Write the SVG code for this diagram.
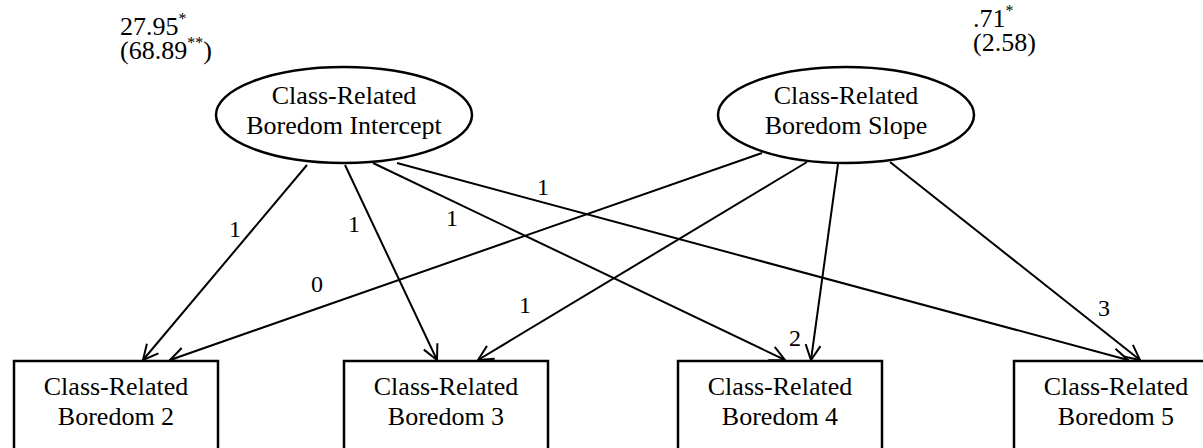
<svg xmlns="http://www.w3.org/2000/svg" width="1203" height="448" viewBox="0 0 1203 448">
<defs>
<style>
.t{font-family:"Liberation Serif","Times New Roman",serif;font-size:26px;fill:#000}
.c{text-anchor:middle}
.lb{font-family:"Liberation Serif","Times New Roman",serif;font-size:24px;fill:#000;text-anchor:middle}
.sup{font-size:16px}
.shape{fill:#fff;stroke:#000;stroke-width:2.5}
.edge{fill:none;stroke:#000;stroke-width:2;marker-end:url(#arr)}
</style>
<marker id="arr" markerUnits="userSpaceOnUse" markerWidth="20" markerHeight="20" viewBox="-16 -10 18 20" refX="0" refY="0" orient="auto">
<path d="M-15,-7.5 L0,0 L-15,7.5" fill="none" stroke="#000" stroke-width="2"/>
</marker>
</defs>
<rect width="1203" height="448" fill="#fff"/>
<g id="variances">
<text class="t" x="120" y="35">27.95<tspan class="sup" dy="-11">*</tspan></text>
<text class="t" x="120" y="59">(68.89<tspan class="sup" dy="-11">**</tspan><tspan dy="11">)</tspan></text>
<text class="t" x="973" y="27">.71<tspan class="sup" dy="-11">*</tspan></text>
<text class="t" x="973" y="51">(2.58)</text>
</g>
<g id="connectors">
<line class="edge" x1="307" y1="165" x2="143" y2="360"/>
<line class="edge" x1="345" y1="165" x2="437" y2="360"/>
<line class="edge" x1="373" y1="163" x2="785" y2="360"/>
<line class="edge" x1="397" y1="163" x2="1128" y2="360"/>
<line class="edge" x1="762" y1="153" x2="170" y2="360"/>
<line class="edge" x1="807" y1="162" x2="478" y2="360"/>
<line class="edge" x1="838" y1="164" x2="811" y2="360"/>
<line class="edge" x1="890" y1="162" x2="1140" y2="360"/>
<text class="lb" x="235" y="237">1</text>
<text class="lb" x="354" y="232">1</text>
<text class="lb" x="452" y="226">1</text>
<text class="lb" x="543" y="195">1</text>
<text class="lb" x="317" y="292">0</text>
<text class="lb" x="525" y="313">1</text>
<text class="lb" x="795" y="346">2</text>
<text class="lb" x="1104" y="316">3</text>
</g>
<g id="intercept">
<ellipse class="shape" cx="344" cy="115" rx="128" ry="48"/>
<text class="t c" x="344" y="104">Class-Related</text>
<text class="t c" x="344" y="134">Boredom Intercept</text>
</g>
<g id="slope">
<ellipse class="shape" cx="846" cy="115" rx="128" ry="48"/>
<text class="t c" x="846" y="104">Class-Related</text>
<text class="t c" x="846" y="134">Boredom Slope</text>
</g>
<g id="b2">
<rect class="shape" x="14" y="361" width="204" height="92"/>
<text class="t c" x="116" y="395">Class-Related</text>
<text class="t c" x="116" y="425">Boredom 2</text>
</g>
<g id="b3">
<rect class="shape" x="344" y="361" width="204" height="92"/>
<text class="t c" x="446" y="395">Class-Related</text>
<text class="t c" x="446" y="425">Boredom 3</text>
</g>
<g id="b4">
<rect class="shape" x="678" y="361" width="204" height="92"/>
<text class="t c" x="780" y="395">Class-Related</text>
<text class="t c" x="780" y="425">Boredom 4</text>
</g>
<g id="b5">
<rect class="shape" x="1014" y="361" width="204" height="92"/>
<text class="t c" x="1116" y="395">Class-Related</text>
<text class="t c" x="1116" y="425">Boredom 5</text>
</g>
</svg>
